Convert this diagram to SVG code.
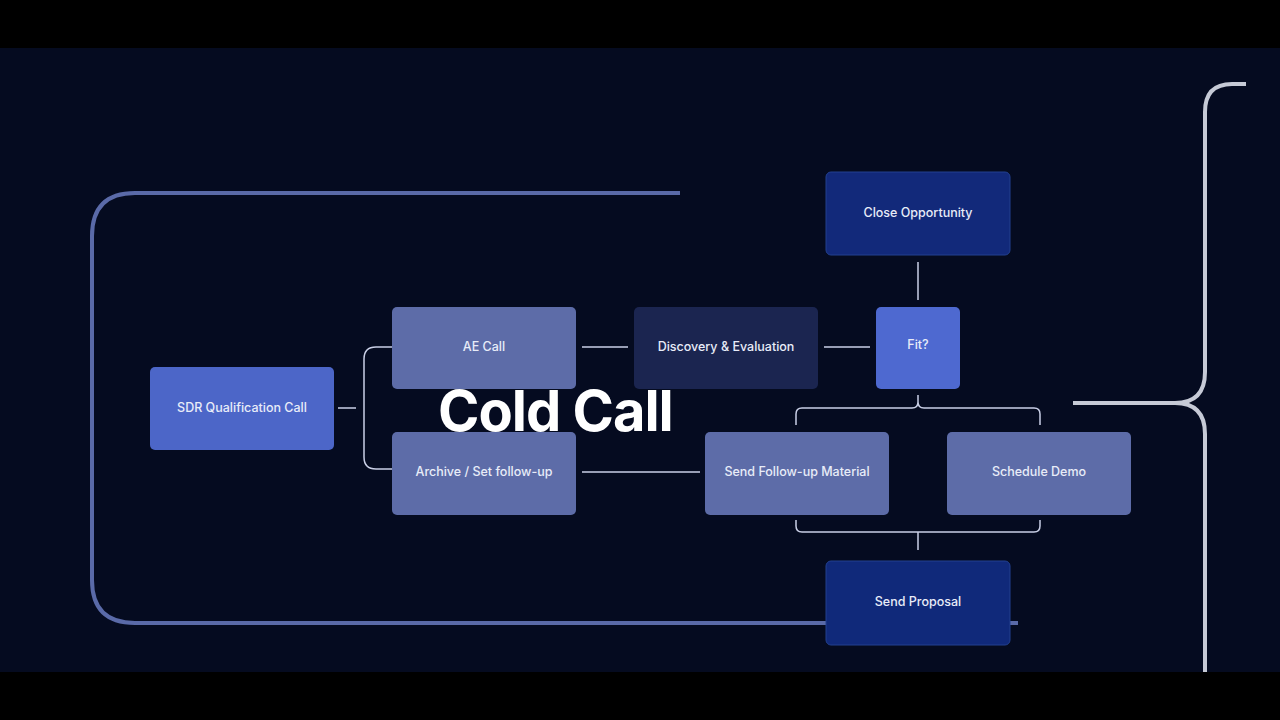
<svg xmlns="http://www.w3.org/2000/svg" width="1280" height="720" viewBox="0 0 1280 720">
<style>
.n text{font-family:Inter,"Liberation Sans",sans-serif;font-size:12.5px;fill:#e8ecf8;text-anchor:middle;dominant-baseline:middle;font-weight:500}
.g rect{fill:#5d6ca8}
.c{fill:none;stroke:#c9cfe6;stroke-width:1.5}
</style>
<rect width="1280" height="720" fill="#000"/>
<rect y="48" width="1280" height="624" fill="#050b20"/>
<g id="frame" fill="none">
<path d="M680,193 H135 Q92,193 92,236 V580 Q92,623 135,623 H1018" stroke="#5a6aa8" stroke-width="4"/>
<path d="M1246,84 H1232 Q1205,84 1205,112 V372 Q1205,403 1175,403 H1073 M1175,403 Q1205,403 1205,434 V672" stroke="#c6cad6" stroke-width="4"/>
</g>
<g id="connectors">
<path class="c" d="M338,408 H356 M392,347 H376 Q364,347 364,359 V457 Q364,469 376,469 H392"/>
<path class="c" d="M582,347 H628 M824,347 H870 M918,262 V300 M582,472 H700"/>
<path class="c" d="M918,395 V402 Q918,408 912,408 H802 Q796,408 796,414 V425 M918,402 Q918,408 924,408 H1034 Q1040,408 1040,414 V425"/>
<path class="c" d="M796,520 V526 Q796,532 802,532 H1034 Q1040,532 1040,526 V520 M918,532 V550"/>
</g>
<g id="sdr" class="n"><rect x="150" y="367" width="184" height="83" rx="5" fill="#4c66c8"/><text x="242" y="409">SDR Qualification Call</text></g>
<g id="ae" class="n g"><rect x="392" y="307" width="184" height="82" rx="5"/><text x="484" y="348">AE Call</text></g>
<g id="archive" class="n g"><rect x="392" y="432" width="184" height="83" rx="5"/><text x="484" y="473">Archive / Set follow-up</text></g>
<g id="discovery" class="n"><rect x="634" y="307" width="184" height="82" rx="5" fill="#1b2550"/><text x="726" y="348">Discovery &amp; Evaluation</text></g>
<g id="fit" class="n"><rect x="876" y="307" width="84" height="82" rx="5" fill="#4e69d0"/><text x="918" y="346">Fit?</text></g>
<g id="close" class="n"><rect x="826" y="172" width="184" height="83" rx="5" fill="#12297a" stroke="#22408f"/><text x="918" y="214">Close Opportunity</text></g>
<g id="followup" class="n g"><rect x="705" y="432" width="184" height="83" rx="5"/><text x="797" y="473">Send Follow-up Material</text></g>
<g id="demo" class="n g"><rect x="947" y="432" width="184" height="83" rx="5"/><text x="1039" y="473">Schedule Demo</text></g>
<g id="proposal" class="n"><rect x="826" y="561" width="184" height="84" rx="5" fill="#10297a" stroke="#22408f"/><text x="918" y="603">Send Proposal</text></g>
<text x="438" y="431" font-family="Inter,'Liberation Sans',sans-serif" font-weight="700" font-size="56" fill="#fff" letter-spacing="-1">Cold Call</text>
</svg>
